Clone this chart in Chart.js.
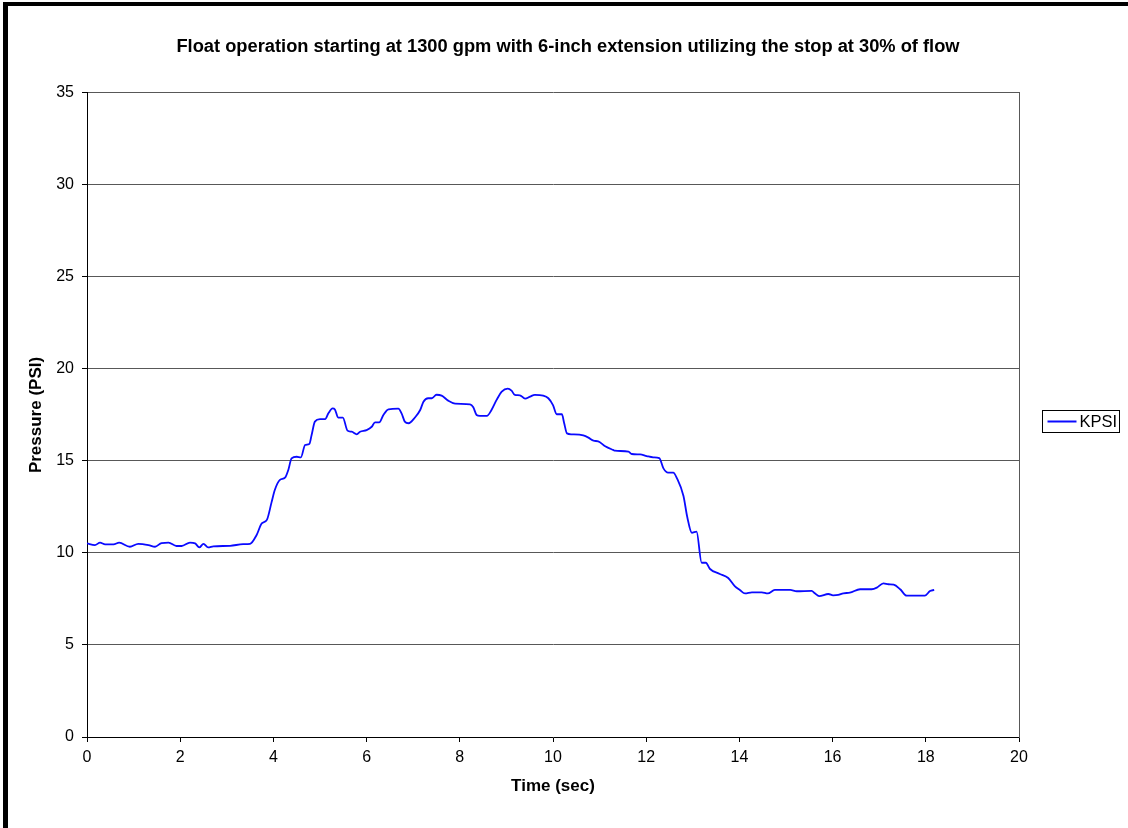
<!DOCTYPE html>
<html>
<head>
<meta charset="utf-8">
<script src="https://cdn.jsdelivr.net/npm/chart.js@4/dist/chart.umd.min.js"></script>
<style>
  html, body { margin: 0; padding: 0; background: #fff; }
  #wrap { width: 1128px; height: 828px; position: relative; }
</style>
</head>
<body>
<div id="wrap"><canvas id="c" width="1128" height="828"></canvas></div>
<script>
// Pressure trace (KPSI) sampled over time
const timeSec = [
  0.00, 0.17, 0.28, 0.39, 0.57, 0.69, 0.92, 1.10, 1.32, 1.46,
  1.60, 1.75, 1.92, 2.03, 2.21, 2.32, 2.41, 2.50, 2.60, 2.71,
  3.07, 3.35, 3.50, 3.64, 3.75, 3.86, 3.96, 4.03, 4.14, 4.25,
  4.32, 4.39, 4.50, 4.59, 4.68, 4.77, 4.82, 4.89, 5.00, 5.11,
  5.18, 5.27, 5.32, 5.39, 5.49, 5.59, 5.68, 5.79, 5.86, 6.00,
  6.11, 6.18, 6.27, 6.36, 6.47, 6.68, 6.75, 6.82, 6.90, 7.04,
  7.15, 7.22, 7.32, 7.40, 7.50, 7.61, 7.75, 7.90, 8.22, 8.29,
  8.36, 8.43, 8.58, 8.68, 8.79, 8.90, 9.03, 9.11, 9.18, 9.29,
  9.40, 9.51, 9.61, 9.79, 9.90, 10.00, 10.08, 10.19, 10.24, 10.30,
  10.40, 10.65, 10.76, 10.87, 10.97, 11.12, 11.29, 11.33, 11.62, 11.69,
  11.87, 12.01, 12.15, 12.28, 12.37, 12.47, 12.58, 12.66, 12.80, 12.88,
  12.98, 13.08, 13.19, 13.28, 13.37, 13.58, 13.76, 13.90, 14.01, 14.12,
  14.27, 14.48, 14.61, 14.76, 14.87, 15.09, 15.23, 15.55, 15.62, 15.71,
  15.91, 16.01, 16.12, 16.23, 16.37, 16.59, 16.84, 16.95, 17.09, 17.20,
  17.31, 17.45, 17.59, 17.98, 18.09, 18.18
];
const kpsi = [
  10.52, 10.43, 10.56, 10.47, 10.47, 10.56, 10.34, 10.50, 10.43, 10.34,
  10.54, 10.56, 10.38, 10.38, 10.56, 10.52, 10.30, 10.50, 10.30, 10.36,
  10.39, 10.48, 10.50, 10.98, 11.61, 11.80, 12.75, 13.42, 13.97, 14.09,
  14.51, 15.14, 15.23, 15.20, 15.87, 15.92, 16.41, 17.14, 17.27, 17.27,
  17.59, 17.86, 17.80, 17.36, 17.36, 16.65, 16.59, 16.45, 16.59, 16.68,
  16.86, 17.10, 17.10, 17.50, 17.81, 17.84, 17.59, 17.14, 17.05, 17.37,
  17.77, 18.22, 18.41, 18.41, 18.60, 18.55, 18.28, 18.12, 18.08, 17.92,
  17.50, 17.45, 17.45, 17.77, 18.32, 18.77, 18.93, 18.82, 18.59, 18.57,
  18.39, 18.50, 18.59, 18.55, 18.41, 18.04, 17.54, 17.54, 17.05, 16.50,
  16.45, 16.39, 16.27, 16.10, 16.07, 15.80, 15.60, 15.56, 15.51, 15.38,
  15.36, 15.27, 15.20, 15.16, 14.60, 14.37, 14.37, 14.06, 13.10, 11.97,
  11.10, 11.16, 9.47, 9.47, 9.13, 8.86, 8.64, 8.20, 7.99, 7.80,
  7.86, 7.86, 7.80, 7.99, 7.99, 7.99, 7.92, 7.94, 7.81, 7.66,
  7.77, 7.70, 7.72, 7.81, 7.84, 8.03, 8.03, 8.12, 8.35, 8.30,
  8.28, 8.03, 7.68, 7.68, 7.93, 7.99
];
const seriesName = 'KPSI';
const chartTitle = 'Float operation starting at 1300 gpm with 6-inch extension utilizing the stop at 30% of flow';
const xTitle = 'Time (sec)';
const yTitle = 'Pressure (PSI)';
const xRange = [0, 20], xStep = 2;
const yRange = [0, 35], yStep = 5;

const FONT = "'Liberation Sans', Arial, sans-serif";
const GRID = '#585858';

// Page frame, right-side plot border and the boxed legend
const decor = {
  id: 'decor',
  beforeDraw(chart) {
    const c = chart.ctx;
    c.save();
    c.fillStyle = '#fff';
    c.fillRect(0, 0, chart.width, chart.height);
    c.fillStyle = '#000';
    c.fillRect(3, 2, 5, chart.height - 2);
    c.fillRect(3, 2, chart.width - 3, 4);
    c.restore();
  },
  afterDraw(chart) {
    const c = chart.ctx;
    const ds = chart.data.datasets[0];
    const bx = 1042.5, by = 410.5, bw = 77, bh = 22;
    c.save();
    c.fillStyle = '#fff';
    c.fillRect(bx, by, bw, bh);
    c.strokeStyle = '#000';
    c.lineWidth = 1;
    c.strokeRect(bx, by, bw, bh);
    c.strokeStyle = ds.borderColor;
    c.lineWidth = 2;
    c.beginPath();
    c.moveTo(bx + 5, by + 11);
    c.lineTo(bx + 34, by + 11);
    c.stroke();
    c.fillStyle = '#000';
    c.font = '16.5px ' + FONT;
    c.textBaseline = 'middle';
    c.textAlign = 'left';
    c.fillText(ds.label, bx + 37, by + 11.5);
    c.restore();
  }
};

new Chart(document.getElementById('c'), {
  type: 'line',
  data: {
    datasets: [{
      label: seriesName,
      data: timeSec.map((t, i) => ({ x: t, y: kpsi[i] })),
      borderColor: '#0a0aff',
      borderWidth: 1.8,
      pointRadius: 0,
      cubicInterpolationMode: 'monotone',
      fill: false
    }]
  },
  options: {
    responsive: false,
    animation: false,
    devicePixelRatio: 1,
    layout: { padding: { left: 8, right: 0, top: 0, bottom: 0 } },
    plugins: {
      legend: { display: false },
      tooltip: { enabled: false },
      title: {
        display: true,
        text: chartTitle,
        color: '#000',
        font: { family: FONT, size: 18.3, weight: 'bold' },
        padding: { top: 36, bottom: 35 }
      }
    },
    scales: {
      x: {
        type: 'linear',
        min: xRange[0], max: xRange[1],
        afterFit(s) { s.height = 91; },
        ticks: {
          stepSize: xStep, color: '#000', padding: 6,
          font: { family: FONT, size: 16 }, maxRotation: 0
        },
        grid: { drawOnChartArea: false, drawTicks: true, tickLength: 5, tickColor: '#000' },
        border: { color: '#000', width: 1 },
        title: {
          display: true, text: xTitle, color: '#000',
          font: { family: FONT, size: 17, weight: 'bold' },
          padding: { top: 0, bottom: 31 }
        }
      },
      y: {
        type: 'linear',
        min: yRange[0], max: yRange[1],
        afterFit(s) { s.width = 79; },
        ticks: {
          stepSize: yStep, color: '#000', padding: 8,
          font: { family: FONT, size: 16 }
        },
        grid: {
          color: ctx => (ctx.tick && ctx.tick.value === 0) ? 'rgba(0,0,0,0)' : GRID,
          lineWidth: 1, drawTicks: true, tickLength: 5, tickColor: '#000'
        },
        border: { color: '#000', width: 1 },
        title: {
          display: true, text: yTitle, color: '#000',
          font: { family: FONT, size: 17, weight: 'bold' },
          padding: { top: 18, bottom: 0 }
        }
      },
      yRight: {
        type: 'linear', position: 'right',
        min: yRange[0], max: yRange[1],
        afterFit(s) { s.width = 109; },
        ticks: { display: false },
        grid: { drawOnChartArea: false, drawTicks: false },
        border: { color: GRID, width: 1 }
      }
    }
  },
  plugins: [decor]
});
</script>
</body>
</html>
